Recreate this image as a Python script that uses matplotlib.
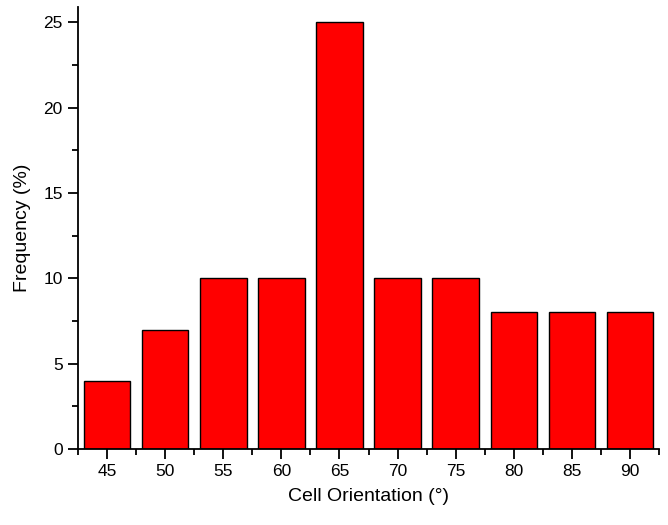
import matplotlib
matplotlib.use('Agg')
import matplotlib.pyplot as plt
from matplotlib.ticker import MultipleLocator

plt.rcParams['font.family'] = ['Liberation Sans', 'DejaVu Sans']

# data
angles = [45, 50, 55, 60, 65, 70, 75, 80, 85, 90]
freq = [4, 7, 10, 10, 25, 10, 10, 8, 8, 8]

fig = plt.figure(figsize=(6.68, 5.25), dpi=100)
ax = fig.add_axes([0.1168, 0.1448, 0.8697, 0.8419])

ax.bar(angles, freq, width=4, color='#ff0000', edgecolor='black', linewidth=1.0)

ax.set_xlim(42.5, 92.5)
ax.set_ylim(0, 25.9)
ax.set_xticks(angles)
ax.set_xticks([a + 2.5 for a in [40] + angles], minor=True)
ax.yaxis.set_major_locator(MultipleLocator(5))
ax.yaxis.set_minor_locator(MultipleLocator(2.5))

for s in ['top', 'right']:
    ax.spines[s].set_visible(False)
for s in ['left', 'bottom']:
    ax.spines[s].set_linewidth(1.3)

ax.tick_params(which='major', direction='out', length=7, width=1.3, labelsize=12.5, pad=4)
ax.tick_params(which='minor', direction='out', length=4, width=1.3)

ax.set_xlabel('Cell Orientation (°)', fontsize=14, labelpad=6)
ax.set_ylabel('Frequency (%)', fontsize=14, labelpad=9)

fig.savefig('out.png', dpi=100)
